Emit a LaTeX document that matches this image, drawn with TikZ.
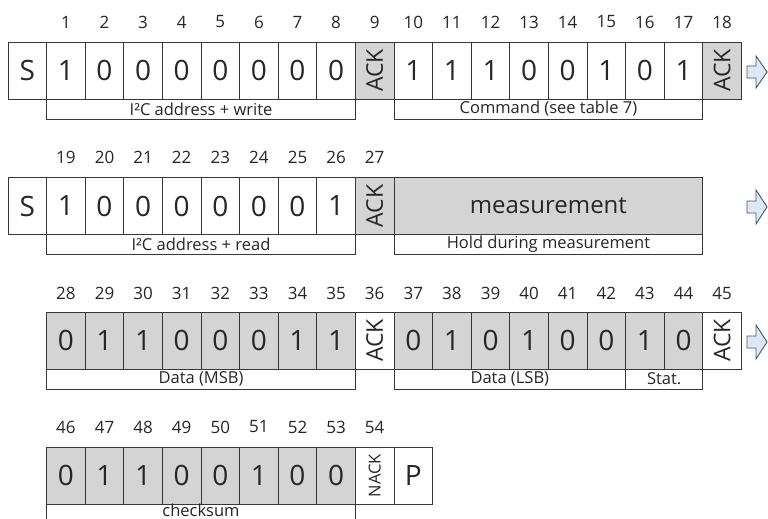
\documentclass[tikz,border=0pt]{standalone}
\usepackage{fontspec}
\setmainfont{Open Sans}
\definecolor{grayc}{RGB}{212,212,212}
\definecolor{linec}{RGB}{55,55,55}
\definecolor{arrowfill}{RGB}{220,233,245}
\definecolor{arrowline}{RGB}{70,85,100}
\begin{document}
\begin{tikzpicture}[x=1pt,y=-1pt,
  box/.style={draw=linec, line width=0.9pt, minimum width=38.6pt, minimum height=57pt, inner sep=0pt, font=\fontsize{28}{30}\selectfont, text=black!85},
  wbox/.style={box, fill=white},
  gbox/.style={box, fill=grayc},
  ackbox/.style={draw=linec, line width=0.9pt, minimum width=57pt, minimum height=38.6pt, inner sep=0pt, rotate=90, font=\fontsize{23}{25}\selectfont, text=black!85},
  nackbox/.style={ackbox, font=\fontsize{16.5}{18}\selectfont},
  stripfont/.style={inner sep=0pt, font=\fontsize{16.5}{18}\selectfont, text=black!85},
  strip/.style={stripfont, draw=linec, line width=0.9pt, fill=white, minimum height=20pt},
  num/.style={inner sep=0pt, font=\fontsize{17}{18}\selectfont, text=black!85},
  blockarrow/.style={draw=arrowline, fill=arrowfill, line width=0.9pt, line join=miter}
]
\useasboundingbox (0,0) rectangle (768,519);
\clip (0,0) rectangle (768,519);

% ---------- Row 1 ----------
\foreach \n [count=\i] in {1,...,18} \node[num] (na\i) at ({8+38.6*(\i+0.5)},22) {\n};
\node[wbox] (a0) at ({8+38.6*0.5},70.5) {S};
\foreach \v [count=\i] in {1,0,0,0,0,0,0,0} \node[wbox] (a\i) at ({8+38.6*(\i+0.5)},70.5) {\v};
\node[ackbox, fill=grayc] (a9) at ({8+38.6*9.5},70.5) {ACK};
\foreach \v [count=\k] in {1,1,1,0,0,1,0,1} {
  \pgfmathtruncatemacro\i{\k+9}
  \node[wbox] (a\i) at ({8+38.6*(\i+0.5)},70.5) {\v};
}
\node[ackbox, fill=grayc] (a18) at ({8+38.6*18.5},70.5) {ACK};
\node[strip, minimum width={8*38.6pt}] (sa1) at ({8+38.6*5},109) {I²C address + write};
\node[strip, minimum width={8*38.6pt}] (sa2) at ({8+38.6*14},109) {Command (see table 7)};
\draw[blockarrow] (747,66) -- (756,66) -- (756,56) -- (767,72) -- (756,88) -- (756,78) -- (747,78) -- cycle;

% ---------- Row 2 ----------
\foreach \n [count=\i] in {19,...,27} \node[num] (nb\i) at ({8+38.6*(\i+0.5)},157) {\n};
\node[wbox] (b0) at ({8+38.6*0.5},206) {S};
\foreach \v [count=\i] in {1,0,0,0,0,0,0,1} \node[wbox] (b\i) at ({8+38.6*(\i+0.5)},206) {\v};
\node[ackbox, fill=grayc] (b9) at ({8+38.6*9.5},206) {ACK};
\node[gbox, minimum width={8*38.6pt}, font=\fontsize{24}{26}\selectfont] (meas) at ({8+38.6*14},206) {measurement};
\node[strip, minimum width={8*38.6pt}] (sb1) at ({8+38.6*5},244.5) {I²C address + read};
\node[strip, minimum width={8*38.6pt}] (sb2) at ({8+38.6*14},244.5) {Hold during measurement};
\draw[blockarrow] (747,201) -- (756,201) -- (756,190) -- (767,207) -- (756,224) -- (756,213) -- (747,213) -- cycle;

% ---------- Row 3 ----------
\foreach \n [count=\i] in {28,...,45} \node[num] (nc\i) at ({8+38.6*(\i+0.5)},293) {\n};
\foreach \v [count=\i] in {0,1,1,0,0,0,1,1} \node[gbox] (c\i) at ({8+38.6*(\i+0.5)},340.5) {\v};
\node[ackbox, fill=white] (c9) at ({8+38.6*9.5},340.5) {ACK};
\foreach \v [count=\k] in {0,1,0,1,0,0,1,0} {
  \pgfmathtruncatemacro\i{\k+9}
  \node[gbox] (c\i) at ({8+38.6*(\i+0.5)},340.5) {\v};
}
\node[ackbox, fill=white] (c18) at ({8+38.6*18.5},340.5) {ACK};
\node[strip, minimum width={8*38.6pt}] (sc1) at ({8+38.6*5},379) {Data (MSB)};
\node[strip, minimum width={6*38.6pt}] (sc2) at ({8+38.6*13},379) {Data (LSB)};
\node[strip, minimum width={2*38.6pt}] (sc3) at ({8+38.6*17},379) {Stat.};
\draw[blockarrow] (747,336) -- (756,336) -- (756,325) -- (767,342) -- (756,359) -- (756,348) -- (747,348) -- cycle;

% ---------- Row 4 ----------
\foreach \n [count=\i] in {46,...,54} \node[num] (nd\i) at ({8+38.6*(\i+0.5)},427) {\n};
\foreach \v [count=\i] in {0,1,1,0,0,1,0,0} \node[gbox] (d\i) at ({8+38.6*(\i+0.5)},475.5) {\v};
\node[nackbox, fill=white] (d9) at ({8+38.6*9.5},475.5) {NACK};
\node[wbox] (d10) at ({8+38.6*10.5},475.5) {P};
\node[strip, minimum width={8*38.6pt}] (sd1) at ({8+38.6*5},514) {};
\node[stripfont, anchor=base] (sd1t) at ({8+38.6*5},516) {checksum};
\end{tikzpicture}
\end{document}
